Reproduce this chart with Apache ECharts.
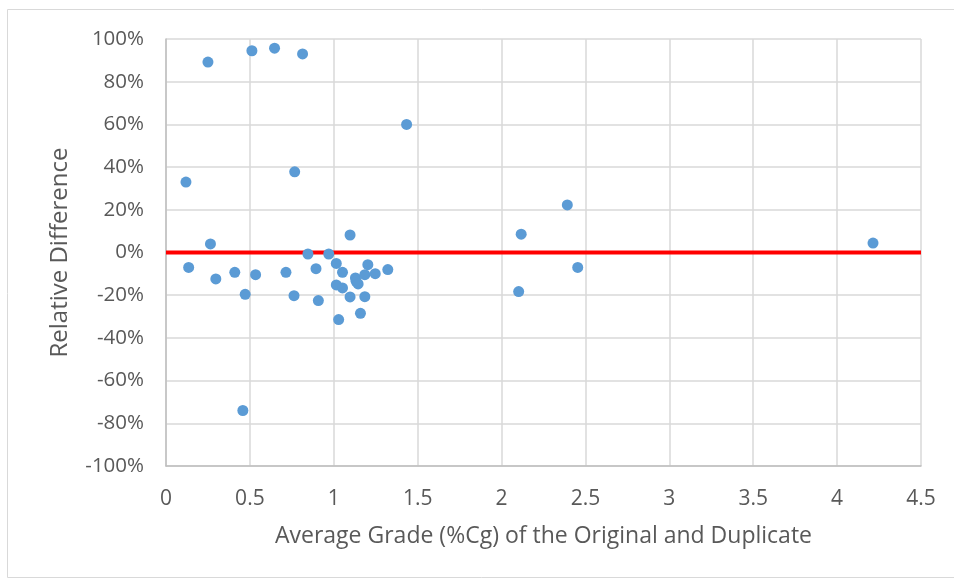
<!DOCTYPE html>
<html><head><meta charset="utf-8">
<script src="https://cdn.jsdelivr.net/npm/echarts@6/dist/echarts.min.js"></script>
<style>html,body{margin:0;padding:0;background:#fff}#c{width:954px;height:582px}</style>
</head><body><div id="c"></div>
<script>
// Average grade (%Cg) and relative difference (%)
const gradeX = [0.25,0.512,0.647,0.814,1.434,0.767,0.119,
  0.265,0.135,0.297,0.41,0.534,0.472,0.715,0.763,0.846,0.894,0.908,0.97,1.097,1.015,1.052,1.015,1.052,1.029,1.097,1.129,1.133,1.145,1.159,1.185,1.185,1.203,1.247,1.322,0.458,
  2.117,2.392,4.214,2.454,2.102];
const relDiff = [89.2,94.5,95.7,93,60,37.8,33,
  4,-7,-12.4,-9.3,-10.4,-19.6,-9.3,-20.2,-0.7,-7.6,-22.5,-0.7,8.2,-5.1,-9.3,-15.2,-16.6,-31.4,-20.8,-11.9,-13.5,-14.7,-28.5,-10.4,-20.7,-5.7,-9.9,-8,-74,
  8.6,22.3,4.4,-7,-18.3];
const refLineX = [0, 4.5];
const refLineY = [0, 0];
const xTitle = 'Average Grade (%Cg) of the Original and Duplicate';
const yTitle = 'Relative Difference';

const font = 'Open Sans';
const txt = '#595959';
const chart = echarts.init(document.getElementById('c'));
chart.setOption({
  animation: false,
  graphic: [{type:'rect', shape:{x:7.5,y:9.5,width:960,height:568}, style:{fill:'none', stroke:'#d9d9d9', lineWidth:1}, z:-1}],
  grid: {left:166, right:33, top:39, bottom:116},
  xAxis: {
    type:'value', min:0, max:4.5, interval:0.5,
    name: xTitle, nameLocation:'middle', nameGap:59,
    nameTextStyle:{fontFamily:font, fontSize:23, color:txt},
    axisLine:{show:true, onZero:false, lineStyle:{color:'#bfbfbf', width:1.5}},
    axisTick:{show:false},
    axisLabel:{fontFamily:font, fontSize:21, color:txt, margin:23},
    splitLine:{show:true, lineStyle:{color:'#d9d9d9', width:1.5}}
  },
  yAxis: {
    type:'value', min:-100, max:100, interval:20,
    name: yTitle, nameLocation:'middle', nameGap:94, nameRotate:90,
    nameTextStyle:{fontFamily:font, fontSize:24, color:txt},
    axisLine:{show:true, onZero:false, lineStyle:{color:'#bfbfbf', width:1.5}},
    axisTick:{show:false},
    axisLabel:{fontFamily:font, fontSize:20.5, color:txt, margin:22, formatter: v => v + '%'},
    splitLine:{show:true, lineStyle:{color:'#d9d9d9', width:1.5}}
  },
  series: [
    {type:'line', data: refLineX.map((x,i)=>[x, refLineY[i]]), symbol:'none',
     lineStyle:{color:'#ff0000', width:4}, z:2},
    {type:'scatter', data: gradeX.map((x,i)=>[x, relDiff[i]]), symbolSize:11,
     itemStyle:{color:'#5b9bd5', opacity:1}, z:3}
  ]
});
</script></body></html>
